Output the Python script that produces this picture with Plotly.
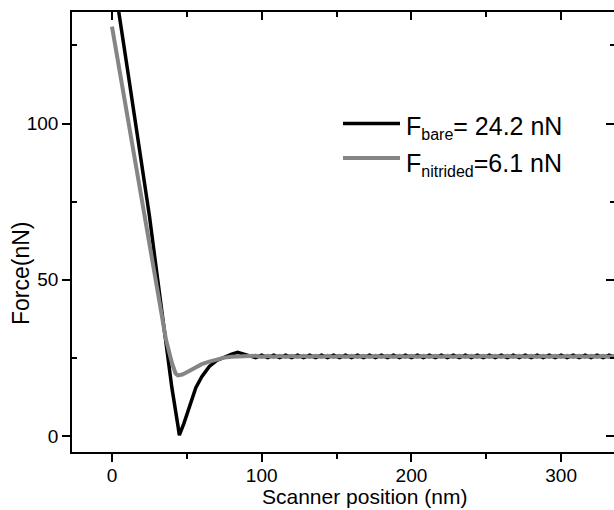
import plotly.graph_objects as go

# ---------------- data ----------------
plateau_x = [96, 100, 104, 108, 112, 116, 120, 124, 128, 132, 136, 140, 144, 148, 152,
             156, 160, 164, 168, 172, 176, 180, 184, 188, 192, 196, 200, 204, 208, 212,
             216, 220, 224, 228, 232, 236, 240, 244, 248, 252, 256, 260, 264, 268, 272,
             276, 280, 284, 288, 292, 296, 300, 304, 308, 312, 316, 320, 324, 328, 332, 336]

bare_x = [0, 2, 5, 10, 15, 20, 25, 30, 35, 40, 44, 45, 48, 52, 56, 60, 65, 70, 75, 80,
          84, 88, 92] + plateau_x
bare_y = [150, 144, 134, 118.5, 102.5, 87, 70.5, 52, 33, 15.5, 3.5, 0.3, 4, 10, 15.5,
          19, 22.3, 24.2, 25.3, 26.2, 26.8, 26.3, 25.6] + \
         [25.1, 25.9, 25.1, 25.9, 25.1, 25.9, 25.1, 25.9, 25.1, 25.9, 25.1, 25.9, 25.1,
          25.9, 25.1, 25.9, 25.1, 25.9, 25.1, 25.9, 25.1, 25.9, 25.1, 25.9, 25.1, 25.9,
          25.1, 25.9, 25.1, 25.9, 25.1, 25.9, 25.1, 25.9, 25.1, 25.9, 25.1, 25.9, 25.1,
          25.9, 25.1, 25.9, 25.1, 25.9, 25.1, 25.9, 25.1, 25.9, 25.1, 25.9, 25.1, 25.9,
          25.1, 25.9, 25.1, 25.9, 25.1, 25.9, 25.1, 25.9, 25.1]

nitrided_x = [0, 5, 10, 15, 20, 25, 30, 33, 36, 40, 42.5, 44, 47, 50, 55, 60, 65, 70,
              75, 80, 85, 90] + plateau_x
nitrided_y = [131, 117, 103, 89, 75, 61, 47, 38.5, 31, 23.5, 20, 19.4, 19.7, 20.4, 21.8,
              23, 23.8, 24.5, 25.1, 25.4, 25.5, 25.5] + \
             [25.7, 25.3, 25.7, 25.3, 25.7, 25.3, 25.7, 25.3, 25.7, 25.3, 25.7, 25.3, 25.7,
              25.3, 25.7, 25.3, 25.7, 25.3, 25.7, 25.3, 25.7, 25.3, 25.7, 25.3, 25.7, 25.3,
              25.7, 25.3, 25.7, 25.3, 25.7, 25.3, 25.7, 25.3, 25.7, 25.3, 25.7, 25.3, 25.7,
              25.3, 25.7, 25.3, 25.7, 25.3, 25.7, 25.3, 25.7, 25.3, 25.7, 25.3, 25.7, 25.3,
              25.7, 25.3, 25.7, 25.3, 25.7, 25.3, 25.7, 25.3, 25.7]

x_ticks = [0, 100, 200, 300]
y_ticks = [0, 50, 100]
legend_labels = ["F<sub><span style='font-size:16px'>bare</span></sub>= 24.2 nN",
                 "F<sub><span style='font-size:16px'>nitrided</span></sub>=6.1 nN"]
x_title = "Scanner position (nm)"
y_title = "Force(nN)"

BLACK = "#000000"
GRAY = "#858585"
FONT = "Liberation Sans, Arial, sans-serif"

X_RANGE = [-26.7, 335.3]
Y_RANGE = [-5.1, 135.7]

fig = go.Figure()
fig.add_trace(go.Scatter(x=bare_x, y=bare_y, mode="lines",
                         line=dict(color=BLACK, width=3.5), showlegend=False))
fig.add_trace(go.Scatter(x=nitrided_x, y=nitrided_y, mode="lines",
                         line=dict(color=GRAY, width=4), showlegend=False))
# empty helper trace so that the mirrored (top/right) axes render
fig.add_trace(go.Scatter(x=[None], y=[None], xaxis="x2", yaxis="y2",
                         showlegend=False, hoverinfo="skip"))

axis_common = dict(showgrid=False, zeroline=False, linecolor="black", linewidth=1.5,
                   tickcolor="black", tickwidth=1.5,
                   tickfont=dict(family=FONT, size=19, color="black"))

fig.update_layout(
    width=614, height=510,
    margin=dict(l=72, r=0, t=12, b=58),
    paper_bgcolor="white", plot_bgcolor="white",
    font=dict(family=FONT, color="black"),
    xaxis=dict(range=X_RANGE, tickvals=x_ticks, ticks="outside", ticklen=8,
               showline=True, ticklabelstandoff=-3,
               minor=dict(tickvals=[50, 150, 250], ticks="outside", ticklen=5,
                          tickcolor="black", tickwidth=1.5),
               **axis_common),
    xaxis2=dict(range=X_RANGE, overlaying="x", side="top", anchor="y",
                tickvals=x_ticks, ticks="inside", ticklen=8, showline=True,
                showticklabels=False,
                minor=dict(tickvals=[50, 150, 250], ticks="inside", ticklen=5,
                           tickcolor="black", tickwidth=1.5),
                **axis_common),
    yaxis=dict(range=Y_RANGE, tickvals=y_ticks, ticks="outside", ticklen=8,
               showline=True,
               minor=dict(tickvals=[25, 75, 125], ticks="inside", ticklen=5,
                          tickcolor="black", tickwidth=1.5),
               **axis_common),
    yaxis2=dict(range=Y_RANGE, overlaying="y", side="right", anchor="x",
                tickvals=y_ticks, ticks="inside", ticklen=8, showline=False,
                showticklabels=False,
                minor=dict(tickvals=[25, 75, 125], ticks="inside", ticklen=4,
                           tickcolor="black", tickwidth=1.5),
                **axis_common),
)

# plot area in pixels: x 72..614, y 12..452
def px(xp):
    return (xp - 72) / 542.0

def py(yp):
    return (452 - yp) / 440.0

# manual legend
legend_rows = [(BLACK, 3.5, 123.5, 127), (GRAY, 4, 158, 164)]
for (col, w, ly, ty), label in zip(legend_rows, legend_labels):
    fig.add_shape(type="line", xref="paper", yref="paper",
                  x0=px(343), x1=px(400), y0=py(ly), y1=py(ly),
                  line=dict(color=col, width=w))
    fig.add_annotation(xref="paper", yref="paper", x=px(404), y=py(ty),
                       xanchor="left", yanchor="middle", showarrow=False,
                       text=label, font=dict(family=FONT, size=25, color="black"))

# axis titles
fig.add_annotation(xref="paper", yref="paper", x=px(364), y=py(510),
                   xanchor="center", yanchor="bottom", showarrow=False,
                   text=x_title, font=dict(family=FONT, size=21, color="black"))
fig.add_annotation(xref="paper", yref="paper", x=px(21), y=py(273),
                   xanchor="center", yanchor="middle", showarrow=False,
                   textangle=-90,
                   text=y_title, font=dict(family=FONT, size=23, color="black"))

fig.write_html("out.html")
